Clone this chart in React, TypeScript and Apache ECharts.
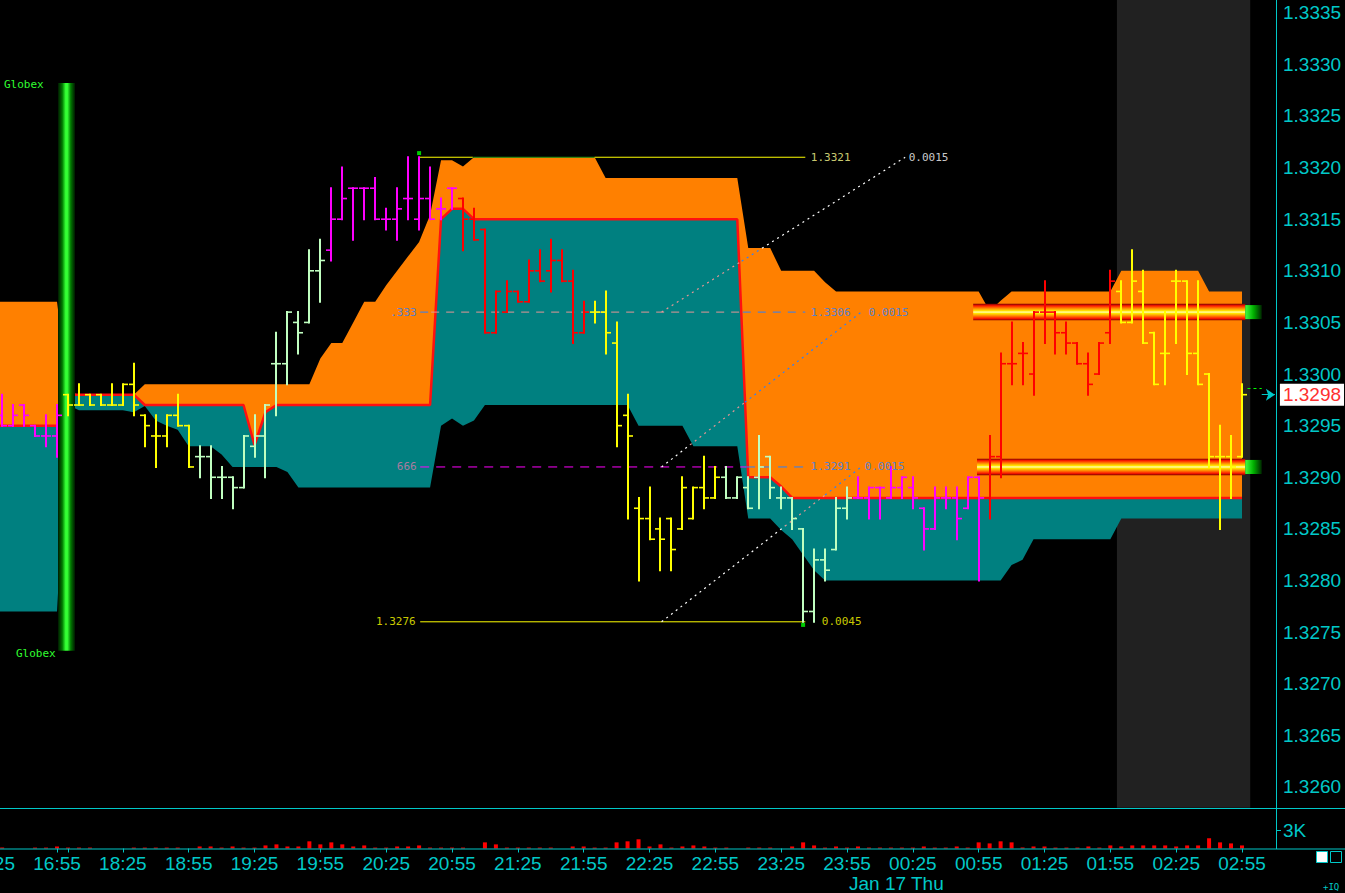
import React, { useEffect, useRef } from 'react';
import * as echarts from 'echarts';

// ---------- categories (5-minute bars, two sessions) ----------
const sessions: [string, number][] = [['16:25', 7], ['18:00', 111]];
const times: string[] = sessions.flatMap(([start, count]) => {
  const [h, m] = start.split(':').map(Number);
  return Array.from({ length: count }, (_, i) => {
    const t = (h * 60 + m + 5 * i) % 1440;
    return String(Math.floor(t / 60)).padStart(2, '0') + ':' + String(t % 60).padStart(2, '0');
  });
});
const dateLabel = 'Jan 17 Thu';
const priceTickLabels = ['1.3260', '1.3265', '1.3270', '1.3275', '1.3280', '1.3285', '1.3290', '1.3295',
  '1.3300', '1.3305', '1.3310', '1.3315', '1.3320', '1.3325', '1.3330', '1.3335'];
const volumeTickValue = 3000;
const volumeTickLabel = '3K';

// ---------- OHLC (index 0 = 16:25) ----------
const opens = [null,
  1.3296, 1.3295, 1.3297, 1.3295, 1.3294, 1.3294,
  1.3298, 1.3297, 1.3298, 1.3298, 1.3297, 1.3297,
  1.3299, 1.3296, 1.3294, 1.3294, 1.3296, 1.3295,
  1.3292, 1.3292, 1.3290, 1.3290, 1.3289, 1.3293,
  1.3294, 1.3301, 1.3301, 1.3305, 1.3305, 1.3310,
  1.3312, 1.3315, 1.3318, 1.3318, 1.3318, 1.3315,
  1.3315, 1.3317, 1.3315, 1.3317, 1.3316, 1.3318,
  1.3317, 1.3315, 1.3314, 1.3304, 1.3306, 1.3308,
  1.3307, 1.3310, 1.3310, 1.3311, 1.3309, 1.3304,
  1.3306, 1.3306, 1.3303, 1.3296, 1.3287, 1.3286,
  1.3285, 1.3286, 1.3285, 1.3286, 1.3289, 1.3288,
  1.3290, 1.3288, 1.3289, 1.3290, 1.3292, 1.3288,
  1.3288, 1.3285, 1.3277, 1.3282, 1.3283, 1.3287,
  1.3288, 1.3288, 1.3289, 1.3288, 1.3289, 1.3289,
  1.3287, 1.3285, 1.3288, 1.3288, 1.3287, 1.3290,
  1.3288, 1.3292, 1.3301, 1.3302, 1.3300, 1.3306,
  1.3306, 1.3304, 1.3303, 1.3301, 1.3300, 1.3304,
  1.3308, 1.3305, 1.3308, 1.3304, 1.3302, 1.3309,
  1.3309, 1.3302, 1.3300, 1.3292, 1.3292, 1.3292];
const highs = [null,
  1.3298, 1.3297, 1.3297, 1.3295, 1.3296, 1.3297,
  1.3298, 1.3299, 1.3298, 1.3298, 1.3299, 1.3299,
  1.3301, 1.3296, 1.3296, 1.3296, 1.3298, 1.3295,
  1.3293, 1.3293, 1.3291, 1.3290, 1.3294, 1.3296,
  1.3297, 1.3304, 1.3306, 1.3306, 1.3312, 1.3313,
  1.3318, 1.3320, 1.3318, 1.3318, 1.3319, 1.3316,
  1.3318, 1.3321, 1.3321, 1.3320, 1.3317, 1.3318,
  1.3317, 1.3316, 1.3314, 1.3308, 1.3309, 1.3308,
  1.3311, 1.3312, 1.3313, 1.3312, 1.3310, 1.3307,
  1.3307, 1.3308, 1.3305, 1.3298, 1.3288, 1.3289,
  1.3286, 1.3286, 1.3290, 1.3289, 1.3292, 1.3291,
  1.3291, 1.3290, 1.3290, 1.3294, 1.3292, 1.3289,
  1.3288, 1.3285, 1.3283, 1.3283, 1.3288, 1.3289,
  1.3290, 1.3289, 1.3289, 1.3291, 1.3290, 1.3290,
  1.3287, 1.3289, 1.3289, 1.3289, 1.3290, 1.3290,
  1.3294, 1.3302, 1.3305, 1.3303, 1.3306, 1.3309,
  1.3306, 1.3305, 1.3303, 1.3302, 1.3303, 1.3310,
  1.3309, 1.3312, 1.3310, 1.3304, 1.3306, 1.3310,
  1.3309, 1.3309, 1.3300, 1.3295, 1.3294, 1.3299];
const lows = [null,
  1.3295, 1.3295, 1.3295, 1.3294, 1.3293, 1.3292,
  1.3296, 1.3297, 1.3297, 1.3297, 1.3297, 1.3297,
  1.3296, 1.3293, 1.3291, 1.3293, 1.3295, 1.3291,
  1.3290, 1.3288, 1.3288, 1.3287, 1.3289, 1.3292,
  1.3290, 1.3296, 1.3299, 1.3302, 1.3305, 1.3307,
  1.3311, 1.3315, 1.3313, 1.3315, 1.3315, 1.3314,
  1.3313, 1.3315, 1.3314, 1.3315, 1.3315, 1.3316,
  1.3312, 1.3313, 1.3304, 1.3304, 1.3306, 1.3307,
  1.3307, 1.3309, 1.3308, 1.3309, 1.3303, 1.3304,
  1.3305, 1.3302, 1.3293, 1.3286, 1.3280, 1.3284,
  1.3281, 1.3281, 1.3285, 1.3286, 1.3287, 1.3288,
  1.3288, 1.3288, 1.3287, 1.3287, 1.3288, 1.3287,
  1.3285, 1.3276, 1.3276, 1.3280, 1.3283, 1.3286,
  1.3288, 1.3286, 1.3286, 1.3288, 1.3288, 1.3287,
  1.3283, 1.3285, 1.3287, 1.3284, 1.3287, 1.3280,
  1.3286, 1.3290, 1.3299, 1.3299, 1.3298, 1.3303,
  1.3302, 1.3302, 1.3301, 1.3298, 1.3300, 1.3303,
  1.3305, 1.3305, 1.3303, 1.3299, 1.3299, 1.3303,
  1.3300, 1.3299, 1.3291, 1.3285, 1.3288, 1.3292];
const closes = [null,
  1.3295, 1.3296, 1.3296, 1.3294, 1.3294, 1.3296,
  1.3297, 1.3297, 1.3297, 1.3297, 1.3297, 1.3299,
  1.3297, 1.3295, 1.3294, 1.3296, 1.3295, 1.3291,
  1.3292, 1.3290, 1.3290, 1.3289, 1.3294, 1.3294,
  1.3297, 1.3301, 1.3306, 1.3304, 1.3310, 1.3311,
  1.3315, 1.3317, 1.3318, 1.3318, 1.3315, 1.3315,
  1.3316, 1.3317, 1.3317, 1.3315, 1.3316, 1.3318,
  1.3315, 1.3313, 1.3304, 1.3308, 1.3308, 1.3307,
  1.3310, 1.3309, 1.3311, 1.3309, 1.3304, 1.3306,
  1.3306, 1.3304, 1.3295, 1.3294, 1.3286, 1.3284,
  1.3284, 1.3283, 1.3289, 1.3289, 1.3288, 1.3290,
  1.3288, 1.3290, 1.3287, 1.3291, 1.3289, 1.3288,
  1.3286, 1.3277, 1.3282, 1.3281, 1.3287, 1.3288,
  1.3288, 1.3289, 1.3289, 1.3289, 1.3290, 1.3288,
  1.3285, 1.3288, 1.3288, 1.3286, 1.3290, 1.3288,
  1.3292, 1.3301, 1.3301, 1.3302, 1.3306, 1.3306,
  1.3304, 1.3303, 1.3301, 1.3299, 1.3303, 1.3309,
  1.3305, 1.3309, 1.3303, 1.3299, 1.3302, 1.3309,
  1.3302, 1.3299, 1.3292, 1.3292, 1.3291, 1.3298];
const volumes = [0,
  150, 0, 0, 150, 150, 330,
  150, 150, 150, 0, 0, 0,
  150, 150, 150, 150, 150, 0,
  330, 330, 150, 330, 150, 150,
  500, 670, 330, 330, 1170, 670,
  1000, 670, 330, 500, 150, 150,
  330, 330, 500, 150, 150, 150,
  150, 0, 1000, 670, 150, 150,
  150, 150, 150, 0, 330, 330,
  150, 150, 1000, 1170, 1500, 330,
  670, 150, 330, 500, 330, 150,
  150, 0, 150, 150, 150, 0,
  330, 1000, 500, 150, 330, 150,
  330, 150, 150, 150, 150, 150,
  330, 150, 150, 330, 150, 1000,
  830, 1170, 1000, 150, 330, 330,
  150, 150, 150, 330, 150, 500,
  330, 500, 500, 500, 500, 330,
  500, 500, 1670, 1000, 830, 500];

// ---------- profile band (upper / value line / lower) ----------
const bandUpper = [
  1.3307, 1.3307, 1.3307, 1.3307, 1.3307, 1.3307, 1.3307, 1.32983, 1.3298, 1.3298,
  1.3298, 1.3298, 1.3298, 1.3298, 1.3299, 1.3299, 1.3299, 1.3299, 1.3299, 1.3299,
  1.3299, 1.3299, 1.3299, 1.3299, 1.3299, 1.3299, 1.3299, 1.3299, 1.3299, 1.3299,
  1.33015, 1.3303, 1.3303, 1.3305, 1.3307, 1.3307, 1.33086, 1.3310, 1.33114, 1.33128,
  1.33154, 1.33207, 1.33207, 1.33201, 1.3321, 1.3321, 1.3321, 1.3321, 1.3321, 1.3321,
  1.3321, 1.3321, 1.3321, 1.3321, 1.3321, 1.3321, 1.3319, 1.3319, 1.3319, 1.3319,
  1.3319, 1.3319, 1.3319, 1.3319, 1.3319, 1.3319, 1.3319, 1.3319, 1.3319, 1.33122,
  1.33122, 1.33122, 1.3310, 1.3310, 1.3310, 1.3310, 1.33089, 1.3308, 1.3308, 1.3308,
  1.3308, 1.3308, 1.3308, 1.3308, 1.3308, 1.3308, 1.3308, 1.3308, 1.3308, 1.3308,
  1.3308, 1.33061, 1.33071, 1.3308, 1.3308, 1.3308, 1.3308, 1.3308, 1.3308, 1.3308,
  1.3308, 1.3308, 1.3308, 1.3310, 1.3310, 1.3310, 1.3310, 1.3310, 1.3310, 1.3310,
  1.3310, 1.3308, 1.3308, 1.3308, 1.3308];
const bandMiddle = [
  1.3295, 1.3295, 1.3295, 1.3295, 1.3295, 1.3295, 1.3295, 1.3298, 1.3298, 1.3298,
  1.3298, 1.3298, 1.3298, 1.3298, 1.3297, 1.3297, 1.3297, 1.3297, 1.3297, 1.3297,
  1.3297, 1.3297, 1.3297, 1.3297, 1.32931, 1.32963, 1.3297, 1.3297, 1.3297, 1.3297,
  1.3297, 1.3297, 1.3297, 1.3297, 1.3297, 1.3297, 1.3297, 1.3297, 1.3297, 1.3297,
  1.3297, 1.3315, 1.3316, 1.3316, 1.3315, 1.3315, 1.3315, 1.3315, 1.3315, 1.3315,
  1.3315, 1.3315, 1.3315, 1.3315, 1.3315, 1.3315, 1.3315, 1.3315, 1.3315, 1.3315,
  1.3315, 1.3315, 1.3315, 1.3315, 1.3315, 1.3315, 1.3315, 1.3315, 1.3315, 1.3290,
  1.3290, 1.3290, 1.32891, 1.3288, 1.3288, 1.3288, 1.3288, 1.3288, 1.3288, 1.3288,
  1.3288, 1.3288, 1.3288, 1.3288, 1.3288, 1.3288, 1.3288, 1.3288, 1.3288, 1.3288,
  1.3288, 1.3288, 1.3288, 1.3288, 1.3288, 1.3288, 1.3288, 1.3288, 1.3288, 1.3288,
  1.3288, 1.3288, 1.3288, 1.3288, 1.3288, 1.3288, 1.3288, 1.3288, 1.3288, 1.3288,
  1.3288, 1.3288, 1.3288, 1.3288, 1.3288];
const bandLower = [
  1.3277, 1.3277, 1.3277, 1.3277, 1.3277, 1.3277, 1.3277, 1.3297, 1.32965, 1.32965,
  1.32965, 1.32965, 1.32965, 1.32963, 1.32969, 1.32955, 1.3295, 1.32946, 1.3293, 1.3293,
  1.3293, 1.32922, 1.3291, 1.3291, 1.3291, 1.3291, 1.3291, 1.32905, 1.3289, 1.3289,
  1.3289, 1.3289, 1.3289, 1.3289, 1.3289, 1.3289, 1.3289, 1.3289, 1.3289, 1.3289,
  1.3289, 1.3295, 1.32957, 1.3295, 1.32955, 1.3297, 1.3297, 1.3297, 1.3297, 1.3297,
  1.3297, 1.3297, 1.3297, 1.3297, 1.3297, 1.3297, 1.3297, 1.3297, 1.3297, 1.3295,
  1.3295, 1.3295, 1.3295, 1.3295, 1.3293, 1.3293, 1.3293, 1.3293, 1.3293, 1.3286,
  1.3286, 1.3286, 1.32849, 1.3284, 1.32825, 1.3281, 1.3280, 1.3280, 1.3280, 1.3280,
  1.3280, 1.3280, 1.3280, 1.3280, 1.3280, 1.3280, 1.3280, 1.3280, 1.3280, 1.3280,
  1.3280, 1.3280, 1.3280, 1.32815, 1.3282, 1.3284, 1.3284, 1.3284, 1.3284, 1.3284,
  1.3284, 1.3284, 1.3284, 1.3286, 1.3286, 1.3286, 1.3286, 1.3286, 1.3286, 1.3286,
  1.3286, 1.3286, 1.3286, 1.3286, 1.3286];

// ---------- overlays (bar-index / price coordinates) ----------
const shadeRange = { from: 102.6, to: 114.75, top: 1.33375, bottom: 1.3258 };
const globexRange = { from: 6.09, to: 7.64, top: 1.33282, bottom: 1.32732 };
const glowLevels = [1.3306, 1.3291];
const glowStarts = [89.5, 89.85];
const glowEnd = 114.3;
const capEnd = 115.8;
const glowHalf = 0.00008;

// ---------- range study annotations ----------
const YELLOW = '#ffff00', GREEN_DK = '#139013', BLUE = '#2a80ff', SALMON = '#e49696', MAGENTA = '#ff00ff', WHITE = '#ffffff';
const levelLines = [
  { price: 1.3321, type: 'solid', pieces: [[39.0, 43.9, YELLOW], [43.9, 55.0, GREEN_DK], [55.0, 74.2, YELLOW]] },
  { price: 1.3306, type: [8, 7], pieces: [[39.1, 40.1, BLUE], [40.1, 68.5, SALMON], [68.5, 74.2, BLUE]] },
  { price: 1.3291, type: [9, 7], pieces: [[39.1, 68.8, MAGENTA], [68.8, 74.2, BLUE]] },
  { price: 1.3276, type: 'solid', pieces: [[39.1, 74.2, YELLOW]] },
];
const diagonals = [
  { from: [61.1, 1.3276], to: [79.3, 1.3291], breaks: [72.35, 76.0], colors: [WHITE, SALMON, BLUE] },
  { from: [61.1, 1.3291], to: [79.3, 1.3306], breaks: [63.7, 68.7], colors: [WHITE, SALMON, BLUE] },
  { from: [61.1, 1.3306], to: [83.3, 1.3321], breaks: [68.4, 70.25], colors: [SALMON, BLUE, WHITE] },
];
const levelLabels = [
  { at: [74.2, 1.3321], text: '1.3321', color: '#ffff90', side: 'right', dist: 5 },
  { at: [83.3, 1.3321], text: '0.0015', color: WHITE, side: 'right', dist: 3 },
  { at: [39.1, 1.3306], text: '.333', color: BLUE, side: 'left', dist: 3 },
  { at: [74.2, 1.3306], text: '1.3306', color: BLUE, side: 'right', dist: 5 },
  { at: [79.3, 1.3306], text: '0.0015', color: BLUE, side: 'right', dist: 7 },
  { at: [39.1, 1.3291], text: '666', color: '#d87aa8', side: 'left', dist: 3 },
  { at: [74.2, 1.3291], text: '1.3291', color: BLUE, side: 'right', dist: 5 },
  { at: [79.3, 1.3291], text: '0.0015', color: BLUE, side: 'right', dist: 3 },
  { at: [39.1, 1.3276], text: '1.3276', color: YELLOW, side: 'left', dist: 4 },
  { at: [74.2, 1.3276], text: '0.0045', color: YELLOW, side: 'right', dist: 16 },
];
const extremeMarkers = [[39, 1.33214], [74, 1.32757]];
const lastPrice = 1.3298;
const lastTickDash = 1.32986;

const hourColors = ['#ff00ff', '#ff0000', '#ffff00', '#c0ffc0'];
const CYAN = '#00c8c8';
const FONT = "'Liberation Sans', Arial, Helvetica, sans-serif";
const MONO = "'DejaVu Sans Mono', monospace";

function buildOption() {
  const N = times.length;
  const gridLeft = -14.3;
  const gridWidth = 1294.7;
  const barColor = times.map((t) => hourColors[Number(t.slice(0, 2)) % 4]);
  const tealH = bandMiddle.map((m, i) => +(m - bandLower[i]).toFixed(6));
  const orangeH = bandUpper.map((u, i) => +(u - bandMiddle[i]).toFixed(6));
  const priceLabelValues = priceTickLabels.map(Number);
  const priceTickValues = priceLabelValues.flatMap((v, i) =>
    i < priceLabelValues.length - 1 ? [v, +((v + priceLabelValues[i + 1]) / 2).toFixed(6)] : [v]);

  const ohlc = opens.map((o, i) => (o == null ? null : [i, o, highs[i], lows[i], closes[i]])).filter(Boolean);

  const glowGrad = new echarts.graphic.LinearGradient(0, 0, 0, 1, [
    { offset: 0, color: '#7a0000' }, { offset: 0.12, color: '#ff1a00' }, { offset: 0.28, color: '#ff8c00' },
    { offset: 0.42, color: '#ffe600' }, { offset: 0.5, color: '#ffffb4' }, { offset: 0.58, color: '#ffe600' },
    { offset: 0.72, color: '#ff8c00' }, { offset: 0.88, color: '#ff1a00' }, { offset: 1, color: '#7a0000' }]);
  const capGrad = new echarts.graphic.LinearGradient(0, 0, 1, 0, [
    { offset: 0, color: '#40ff40' }, { offset: 0.5, color: '#00b000' }, { offset: 1, color: '#002800' }]);
  const globexGrad = new echarts.graphic.LinearGradient(0, 0, 1, 0, [
    { offset: 0, color: '#001800' }, { offset: 0.25, color: '#007800' }, { offset: 0.45, color: '#34ff34' },
    { offset: 0.55, color: '#34ff34' }, { offset: 0.75, color: '#007800' }, { offset: 1, color: '#001800' }]);

  const overlays: any[] = [
    { from: globexRange.from, to: globexRange.to, top: globexRange.top, bottom: globexRange.bottom, fill: globexGrad },
  ];
  glowLevels.forEach((p, k) => {
    overlays.push({ from: glowStarts[k], to: glowEnd, top: p + glowHalf, bottom: p - glowHalf, fill: glowGrad });
    overlays.push({ from: glowEnd, to: capEnd, top: p + glowHalf * 0.85, bottom: p - glowHalf * 0.85, fill: capGrad });
  });

  const rectRender = (list: any[]) => (params: any, api: any) => {
    const o = list[params.dataIndex];
    const p0 = api.coord([o.from, o.top]);
    const p1 = api.coord([o.to, o.bottom]);
    return { type: 'rect', shape: { x: p0[0], y: p0[1], width: p1[0] - p0[0], height: p1[1] - p0[1] }, style: { fill: o.fill } };
  };
  const shadeList = [{ ...shadeRange, fill: '#212121' }];

  const series: any[] = [];
  series.push({
    type: 'custom', xAxisIndex: 1, yAxisIndex: 0, z: 1, silent: true,
    data: shadeList.map((o) => [o.from, o.top, o.to, o.bottom]),
    encode: { x: [0, 2], y: [1, 3] },
    renderItem: rectRender(shadeList),
  });
  series.push({ type: 'line', xAxisIndex: 0, yAxisIndex: 0, stack: 'band', stackStrategy: 'all', data: bandLower,
    symbol: 'none', lineStyle: { width: 0, opacity: 0 }, silent: true, z: 2 });
  series.push({ type: 'line', xAxisIndex: 0, yAxisIndex: 0, stack: 'band', stackStrategy: 'all', data: tealH,
    symbol: 'none', lineStyle: { width: 0, opacity: 0 }, areaStyle: { color: '#008080', opacity: 1 }, silent: true, z: 2 });
  series.push({ type: 'line', xAxisIndex: 0, yAxisIndex: 0, stack: 'band', stackStrategy: 'all', data: orangeH,
    symbol: 'none', lineStyle: { width: 0, opacity: 0 }, areaStyle: { color: '#ff8000', opacity: 1 }, silent: true, z: 2 });
  series.push({ type: 'line', xAxisIndex: 0, yAxisIndex: 0, data: bandMiddle, symbol: 'none',
    lineStyle: { color: '#ff1010', width: 2.5 }, silent: true, z: 2 });

  series.push({
    type: 'custom', xAxisIndex: 1, yAxisIndex: 0, z: 3, silent: true,
    data: overlays.map((o) => [o.from, o.top, o.to, o.bottom]),
    encode: { x: [0, 2], y: [1, 3] },
    renderItem: rectRender(overlays),
  });

  levelLines.forEach((l) => l.pieces.forEach(([a, b, c]: any) => {
    series.push({ type: 'line', xAxisIndex: 1, yAxisIndex: 0, data: [[a, l.price], [b, l.price]], symbol: 'none',
      lineStyle: { color: c, width: 1, type: l.type }, silent: true, z: 3 });
  }));
  diagonals.forEach((d) => {
    const xs = [d.from[0], ...d.breaks, d.to[0]];
    const at = (x: number) => d.from[1] + ((x - d.from[0]) / (d.to[0] - d.from[0])) * (d.to[1] - d.from[1]);
    d.colors.forEach((c, k) => {
      series.push({ type: 'line', xAxisIndex: 1, yAxisIndex: 0, data: [[xs[k], at(xs[k])], [xs[k + 1], at(xs[k + 1])]],
        symbol: 'none', lineStyle: { color: c, width: 1.2, type: [2, 4] }, silent: true, z: 3 });
    });
  });

  series.push({
    type: 'custom', xAxisIndex: 1, yAxisIndex: 0, z: 4, silent: true,
    data: ohlc,
    encode: { x: 0, y: [1, 2, 3, 4] },
    renderItem: (params: any, api: any) => {
      const i = api.value(0);
      const ph = api.coord([i, api.value(2)]);
      const pl = api.coord([i, api.value(3)]);
      const po = api.coord([i, api.value(1)]);
      const pc = api.coord([i, api.value(4)]);
      const color = barColor[i];
      const x = Math.round(ph[0]);
      return {
        type: 'group', children: [
          { type: 'line', shape: { x1: x, y1: ph[1] - 1, x2: x, y2: pl[1] + 1 }, style: { stroke: color, lineWidth: 2 } },
          { type: 'line', shape: { x1: x - 5, y1: po[1], x2: x, y2: po[1] }, style: { stroke: color, lineWidth: 1.6 } },
          { type: 'line', shape: { x1: x, y1: pc[1], x2: x + 5, y2: pc[1] }, style: { stroke: color, lineWidth: 1.6 } },
        ],
      };
    },
  });

  series.push({
    type: 'scatter', xAxisIndex: 1, yAxisIndex: 0, z: 5, silent: true, symbolSize: 1,
    itemStyle: { color: 'rgba(0,0,0,0)' },
    data: levelLabels.map((l) => ({
      value: l.at,
      label: { show: true, position: l.side, distance: l.dist, formatter: l.text, color: l.color, fontSize: 11, fontFamily: MONO },
    })),
  });
  series.push({
    type: 'scatter', xAxisIndex: 1, yAxisIndex: 0, z: 5, silent: true, symbol: 'rect', symbolSize: [4, 4],
    itemStyle: { color: '#00ff00' }, data: extremeMarkers,
  });
  series.push({
    type: 'line', xAxisIndex: 1, yAxisIndex: 0, z: 6, silent: true, symbol: 'none',
    lineStyle: { opacity: 0 }, data: [[116, lastPrice]],
    markLine: {
      silent: true, symbol: ['none', 'arrow'], symbolSize: 9, animation: false,
      lineStyle: { color: CYAN, width: 1, type: 'solid' },
      label: {
        show: true, position: 'end', distance: 5, formatter: lastPrice.toFixed(4), color: '#ff3030',
        backgroundColor: '#ffffff', padding: [2, 3, 1, 3], fontSize: 19, fontFamily: FONT,
      },
      data: [
        [{ coord: [115.8, lastPrice] }, { coord: [117.0, lastPrice] }],
        [{ coord: [114.5, lastTickDash], symbol: 'none', lineStyle: { color: '#00ff00', type: [3, 3], width: 1 }, label: { show: false } },
          { coord: [115.8, lastTickDash], symbol: 'none' }],
      ],
    },
  });

  series.push({
    type: 'bar', xAxisIndex: 2, yAxisIndex: 1, data: volumes, barWidth: 4, silent: true,
    itemStyle: { color: '#ff0000' },
  });

  return {
    animation: false,
    backgroundColor: '#000000',
    grid: [
      { left: gridLeft, top: -13.1, width: gridWidth, height: 825.9, containLabel: false, outerBoundsMode: 'none' },
      { left: gridLeft, top: 808, width: gridWidth, height: 40.5, containLabel: false, outerBoundsMode: 'none' },
    ],
    xAxis: [
      { type: 'category', gridIndex: 0, data: times, boundaryGap: true, show: false },
      { type: 'value', gridIndex: 0, min: -0.5, max: N - 0.5, show: false },
      {
        type: 'category', gridIndex: 1, data: times, boundaryGap: true,
        axisLine: { show: false },
        axisTick: { show: true, alignWithLabel: true, length: 4, lineStyle: { color: CYAN },
          interval: (i: number) => i % 6 === 0 || i === 7 },
        axisLabel: { interval: 5, color: CYAN, fontSize: 19, fontFamily: FONT, margin: 5 },
        splitLine: { show: false },
      },
    ],
    yAxis: [
      {
        type: 'value', gridIndex: 0, position: 'right', offset: -3.4,
        min: 1.32575, max: 1.33375, interval: 0.00025,
        axisLine: { show: false }, splitLine: { show: false },
        axisTick: { show: true, length: 4, lineStyle: { color: CYAN }, customValues: priceTickValues },
        axisLabel: {
          color: CYAN, fontSize: 19, fontFamily: FONT, margin: 6, customValues: priceLabelValues,
          formatter: (v: number) => (Math.round(v * 1e4) % 5 === 0 ? v.toFixed(4) : ''),
        },
      },
      {
        type: 'value', gridIndex: 1, position: 'right', offset: -3.4, min: 0, max: 6600, interval: 3000,
        axisLine: { show: false }, splitLine: { show: false },
        axisTick: { show: true, length: 4, lineStyle: { color: CYAN }, customValues: [volumeTickValue] },
        axisLabel: { color: CYAN, fontSize: 19, fontFamily: FONT, margin: 6, customValues: [volumeTickValue],
          formatter: (v: number) => (v === volumeTickValue ? volumeTickLabel : '') },
      },
    ],
    graphic: [
      { type: 'line', z: 100, silent: true, shape: { x1: 1276.5, y1: 0, x2: 1276.5, y2: 849 }, style: { stroke: CYAN, lineWidth: 1 } },
      { type: 'line', z: 100, silent: true, shape: { x1: 0, y1: 808.5, x2: 1345, y2: 808.5 }, style: { stroke: CYAN, lineWidth: 1 } },
      { type: 'line', z: 100, silent: true, shape: { x1: 0, y1: 849, x2: 1345, y2: 849 }, style: { stroke: CYAN, lineWidth: 1.2 } },
      { type: 'text', z: 100, silent: true, x: 849, y: 883, style: { text: dateLabel, fill: CYAN, fontSize: 19, fontFamily: FONT, align: 'left', verticalAlign: 'middle', textAlign: 'left', textVerticalAlign: 'middle' } },
      { type: 'text', z: 100, silent: true, x: 4, y: 84, style: { text: 'Globex', fill: '#30ff30', fontSize: 11, fontFamily: MONO, align: 'left', verticalAlign: 'middle', textAlign: 'left', textVerticalAlign: 'middle' } },
      { type: 'text', z: 100, silent: true, x: 16, y: 653, style: { text: 'Globex', fill: '#30ff30', fontSize: 11, fontFamily: MONO, align: 'left', verticalAlign: 'middle', textAlign: 'left', textVerticalAlign: 'middle' } },
      { type: 'rect', z: 100, silent: true, shape: { x: 1316.5, y: 851.5, width: 11, height: 11 }, style: { fill: '#ffffff', stroke: CYAN, lineWidth: 1 } },
      { type: 'rect', z: 100, silent: true, shape: { x: 1330.5, y: 851.5, width: 11, height: 11 }, style: { fill: 'none', stroke: CYAN, lineWidth: 1 } },
      { type: 'text', z: 100, silent: true, x: 1323, y: 887, style: { text: '+IQ', fill: CYAN, fontSize: 9, fontFamily: MONO, align: 'left', verticalAlign: 'middle', textAlign: 'left', textVerticalAlign: 'middle' } },
    ],
    series,
  };
}

export default function App() {
  const ref = useRef<HTMLDivElement>(null);
  useEffect(() => {
    if (!ref.current) return;
    const chart = echarts.init(ref.current, null, { renderer: 'svg' });
    chart.setOption(buildOption() as any);
    return () => chart.dispose();
  }, []);
  return (
    <div
      ref={ref}
      style={{ position: 'fixed', left: 0, top: 0, width: 1345, height: 893, background: '#000' }}
    />
  );
}
